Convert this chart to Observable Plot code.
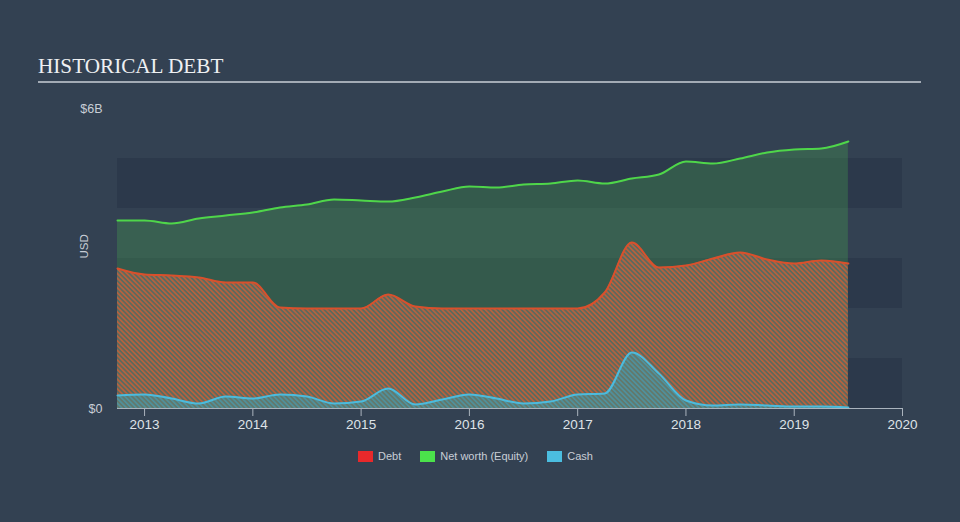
<!DOCTYPE html>
<html><head><meta charset="utf-8">
<script src="https://cdn.jsdelivr.net/npm/d3@7"></script>
<script src="https://cdn.jsdelivr.net/npm/@observablehq/plot@0.6"></script>
<style>
html,body{margin:0;padding:0;background:#334152;width:960px;height:522px;overflow:hidden;position:relative;font-family:"Liberation Sans",Arial,sans-serif;}
#title{position:absolute;left:38px;top:53px;font-family:"Liberation Serif","Times New Roman",serif;font-size:21.2px;color:#eef0f2;line-height:26px;white-space:nowrap;}
#rule{position:absolute;left:38px;top:81px;width:883px;height:2px;background:#a3abb5;}
#chart{position:absolute;left:0;top:90px;}
#legend{position:absolute;left:358px;top:450px;display:flex;align-items:center;font-size:11px;color:#c9ced6;}
#legend .item{display:flex;align-items:center;margin-right:19px;}
#legend .sw{width:15px;height:11px;margin-right:5px;}
</style></head>
<body>
<div id="title">HISTORICAL DEBT</div>
<div id="rule"></div>
<div id="chart"></div>
<div id="legend"></div>
<script>
const quarters = [2012.75, 2013.0, 2013.25, 2013.5, 2013.75, 2014.0, 2014.25, 2014.5, 2014.75,
  2015.0, 2015.25, 2015.5, 2015.75, 2016.0, 2016.25, 2016.5, 2016.75, 2017.0, 2017.25, 2017.5,
  2017.75, 2018.0, 2018.25, 2018.5, 2018.75, 2019.0, 2019.25, 2019.5];
const equity = [3.76, 3.76, 3.70, 3.80, 3.86, 3.92, 4.02, 4.08, 4.18, 4.16, 4.14, 4.22, 4.34, 4.44,
  4.42, 4.48, 4.50, 4.56, 4.50, 4.60, 4.68, 4.94, 4.90, 5.00, 5.12, 5.18, 5.20, 5.34];
const debt = [2.80, 2.68, 2.66, 2.62, 2.52, 2.52, 2.02, 2.00, 2.00, 2.00, 2.28, 2.04, 2.00, 2.00,
  2.00, 2.00, 2.00, 2.00, 2.32, 3.32, 2.82, 2.86, 3.00, 3.12, 2.98, 2.90, 2.96, 2.90];
const cash = [0.26, 0.28, 0.20, 0.10, 0.24, 0.20, 0.28, 0.24, 0.10, 0.14, 0.40, 0.08, 0.18, 0.28,
  0.20, 0.10, 0.14, 0.28, 0.30, 1.12, 0.70, 0.16, 0.06, 0.08, 0.06, 0.04, 0.04, 0.02];
const yearTicks = [2013, 2014, 2015, 2016, 2017, 2018, 2019, 2020];
const yTickValues = [0, 6];
const yTickLabels = ["$0", "$6B"];
const seriesNames = ["Debt", "Net worth (Equity)", "Cash"];
const seriesColors = ["#e8292b", "#4be24b", "#4bbde0"];
const bandFloors = [0, 2, 4];

const rows = quarters.map((t, i) => ({t, equity: equity[i], debt: debt[i], cash: cash[i]}));
const xStart = quarters[0], xEnd = yearTicks[yearTicks.length - 1];
const curve = "monotone-x";

const svgEl = Plot.plot({
  width: 960, height: 345,
  marginLeft: 117, marginRight: 58, marginTop: 18, marginBottom: 27,
  x: {domain: [xStart, xEnd]},
  y: {domain: [0, 6]},
  style: {background: "transparent", color: "#c9ced6", fontFamily: "'Liberation Sans', Arial, sans-serif", fontSize: "12px"},
  marks: [
    Plot.rect(bandFloors, {x1: () => xStart, x2: () => xEnd, y1: d => d, y2: d => d + 1, fill: "#2c394b"}),
    Plot.areaY(rows, {x: "t", y: "equity", fill: "#4aa84e", fillOpacity: 0.3, curve}),
    Plot.areaY(rows, {x: "t", y: "debt", fill: "url(#hatchDebt)", curve}),
    Plot.areaY(rows, {x: "t", y: "cash", fill: "url(#hatchCash)", curve}),
    Plot.lineY(rows, {x: "t", y: "equity", stroke: "#4fd64a", strokeWidth: 2, curve}),
    Plot.lineY(rows, {x: "t", y: "debt", stroke: "#d9502c", strokeWidth: 2, curve}),
    Plot.lineY(rows, {x: "t", y: "cash", stroke: "#4cbbdd", strokeWidth: 2, curve}),
    Plot.ruleY([0], {stroke: "#aab3bd", strokeWidth: 1.2}),
    Plot.axisX({ticks: yearTicks, tickFormat: d => String(d), tickSize: 8, tickPadding: 3,
      stroke: "#aab3bd", fill: "#dfe3e8", fontSize: 13.5, label: null}),
    Plot.axisY({ticks: yTickValues, tickFormat: d => yTickLabels[yTickValues.indexOf(d)],
      tickSize: 0, tickPadding: 15, fill: "#c9ced6", fontSize: 12.5, label: null}),
    Plot.text(["USD"], {frameAnchor: "left", dx: -33, rotate: -90, text: d => d, fill: "#c9ced6", fontSize: 11.5})
  ]
});

const defs = d3.select(svgEl).insert("defs", ":first-child");
function hatch(id, bg, fg) {
  const s = 3.4;
  const p = defs.append("pattern").attr("id", id).attr("patternUnits", "userSpaceOnUse")
    .attr("width", s).attr("height", s).attr("patternTransform", "rotate(-45)");
  p.append("rect").attr("width", s).attr("height", s).attr("fill", bg);
  p.append("rect").attr("width", 1.6).attr("height", s).attr("fill", fg);
}
hatch("hatchDebt", "#5c6a5e", "#b9613d");
hatch("hatchCash", "#62786c", "#4f929e");
document.getElementById("chart").appendChild(svgEl);

const legend = d3.select("#legend");
seriesNames.forEach((n, i) => {
  const it = legend.append("div").attr("class", "item");
  it.append("div").attr("class", "sw").style("background", seriesColors[i]);
  it.append("span").text(n);
});
</script>
</body></html>
